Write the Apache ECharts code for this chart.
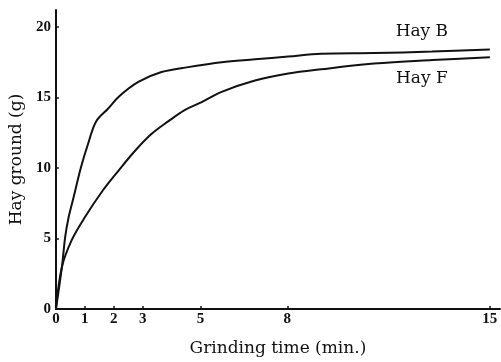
<!DOCTYPE html>
<html><head><meta charset="utf-8">
<script src="https://cdn.jsdelivr.net/npm/echarts@6/dist/echarts.min.js"></script>
<style>html,body{margin:0;padding:0;background:#fff}#c{width:501px;height:362px}</style>
</head><body><div id="c"></div>
<script>
const xTicks = [0, 1, 2, 3, 5, 8, 15];
const yTicks = [0, 5, 10, 15, 20];
const hayBX = [0, 0.21, 0.32, 0.44, 0.61, 0.86, 1.11, 1.39, 1.8, 2.2, 2.85, 3.65, 4.57, 5.73, 6.88, 8.03, 9.17, 11, 13, 15];
const hayBY = [0, 3.0, 5.1, 6.5, 7.9, 10.0, 11.7, 13.3, 14.2, 15.1, 16.1, 16.8, 17.15, 17.5, 17.7, 17.9, 18.1, 18.15, 18.25, 18.4];
const hayFX = [0, 0.21, 0.55, 1.0, 1.62, 2.16, 2.73, 3.3, 3.88, 4.45, 5.02, 5.73, 6.88, 8.03, 9.17, 11, 13, 15];
const hayFY = [0, 3.0, 4.9, 6.5, 8.4, 9.8, 11.2, 12.4, 13.3, 14.1, 14.65, 15.4, 16.2, 16.7, 17.0, 17.4, 17.65, 17.85];
const seriesNames = ['Hay B', 'Hay F'];
const labelAt = [[12.65, 18.25], [12.65, 17.62]];

const tickFont = 'Liberation Serif';
const nameFont = 'DejaVu Serif';
const chart = echarts.init(document.getElementById('c'));
const zip = (a, b) => a.map((v, i) => [v, b[i]]);
chart.setOption({
  animation: false,
  grid: {left: 54, right: 1, top: 10, bottom: 48.5},
  xAxis: {
    type: 'value', min: 0, max: 15.35,
    name: 'Grinding time (min.)', nameLocation: 'middle', nameGap: 31,
    nameTextStyle: {fontFamily: nameFont, fontSize: 17, color: '#111'},
    splitLine: {show: false},
    axisLine: {lineStyle: {color: '#111', width: 2}},
    axisTick: {inside: true, length: 3, customValues: xTicks, lineStyle: {color: '#111', width: 1.5}},
    axisLabel: {customValues: xTicks, fontFamily: tickFont, fontSize: 15, fontWeight: 'bold', color: '#111', margin: 3}
  },
  yAxis: {
    type: 'value', min: 0, max: 21.2,
    name: 'Hay ground (g)', nameLocation: 'middle', nameGap: 29,
    nameTextStyle: {fontFamily: nameFont, fontSize: 17, color: '#111'},
    splitLine: {show: false},
    axisLine: {show: true, lineStyle: {color: '#111', width: 2}},
    axisTick: {show: true, inside: true, length: 3, customValues: yTicks, lineStyle: {color: '#111', width: 1.5}},
    axisLabel: {customValues: yTicks, fontFamily: tickFont, fontSize: 15, fontWeight: 'bold', color: '#111', margin: 5}
  },
  series: [
    {name: seriesNames[0], type: 'line', smooth: 0.35, symbol: 'none', data: zip(hayBX, hayBY),
     lineStyle: {color: '#111', width: 2},
     markPoint: {symbol: 'circle', symbolSize: 0, silent: true,
       data: [{coord: labelAt[0], label: {show: true, formatter: seriesNames[0], position: 'top', distance: 12,
         fontFamily: nameFont, fontSize: 17, color: '#111'}}]}},
    {name: seriesNames[1], type: 'line', smooth: 0.35, symbol: 'none', data: zip(hayFX, hayFY),
     lineStyle: {color: '#111', width: 2},
     markPoint: {symbol: 'circle', symbolSize: 0, silent: true,
       data: [{coord: labelAt[1], label: {show: true, formatter: seriesNames[1], position: 'bottom', distance: 10,
         fontFamily: nameFont, fontSize: 17, color: '#111'}}]}}
  ]
});
</script></body></html>
